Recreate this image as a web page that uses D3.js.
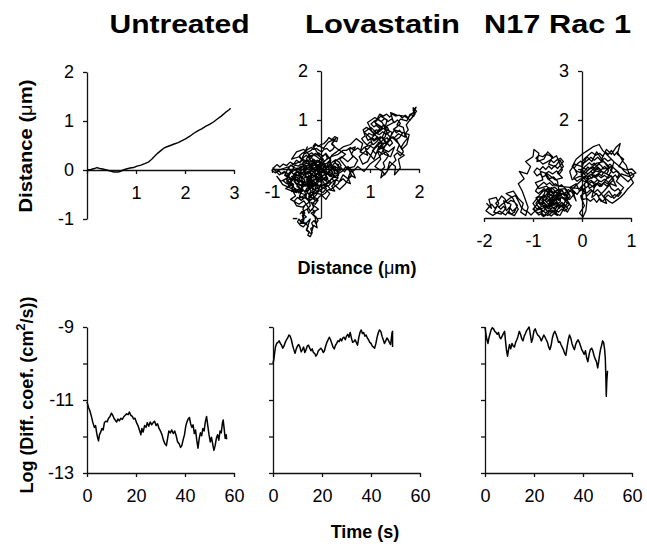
<!DOCTYPE html>
<html lang="en">
<head>
  <meta charset="UTF-8">
  <title>Trajectories and diffusion coefficients</title>
  <script src="https://d3js.org/d3.v7.min.js"></script>
  <style>
    body { margin: 0; background: #fff; }
    .axis path, .axis line { stroke: #111; stroke-width: 1.3px; }
    .axis text { font-family: Arial, "Liberation Sans", sans-serif; font-size: 18px; fill: #000; }
    .title { font-family: Arial, "Liberation Sans", sans-serif; font-weight: bold; font-size: 25px; text-anchor: middle; }
    .label { font-family: Arial, "Liberation Sans", sans-serif; font-weight: bold; font-size: 18px; text-anchor: middle; }
    .trace { fill: none; stroke: #000; stroke-width: 1.3px; stroke-linejoin: round; }
  </style>
</head>
<body>
<div id="chart"></div>
<script>
// panel titles
const titles = ["Untreated", "Lovastatin", "N17 Rac 1"];

// top row: x/y trajectories (µm)
const untreatedPath = [[0,0],[0.08,0.01],[0.15,0.03],[0.2,0.05],[0.26,0.03],[0.32,0.02],[0.4,0.0],[0.48,-0.02],[0.55,-0.04],[0.62,-0.04],[0.68,-0.03],[0.74,0.0],[0.8,0.02],[0.88,0.04],[0.95,0.05],[1.02,0.08],[1.1,0.1],[1.18,0.13],[1.25,0.16],[1.32,0.22],[1.38,0.28],[1.44,0.34],[1.5,0.39],[1.56,0.44],[1.62,0.47],[1.7,0.5],[1.78,0.53],[1.86,0.56],[1.94,0.6],[2.02,0.64],[2.1,0.69],[2.18,0.75],[2.26,0.8],[2.34,0.84],[2.42,0.89],[2.5,0.93],[2.58,0.98],[2.66,1.04],[2.74,1.1],[2.82,1.17],[2.9,1.23],[2.93,1.26]];

const lovastatinWalk1 = [[0,0],[-0.12,0.1],[-0.05,-0.12],[-0.22,-0.02],[-0.18,-0.25],[-0.35,-0.1],[-0.28,0.08],[-0.42,-0.05],[-0.38,-0.28],[-0.55,-0.18],[-0.48,0.02],[-0.62,-0.08],[-0.7,-0.22],[-0.58,-0.32],[-0.72,-0.4],[-0.5,-0.48],[-0.38,-0.4],[-0.45,-0.6],[-0.3,-0.52],[-0.22,-0.35],[-0.1,-0.45],[-0.15,-0.2],[0.02,-0.28],[-0.05,-0.05],[0.12,-0.1],[0.08,0.1],[-0.08,0.18],[-0.2,0.05],[-0.3,0.22],[-0.15,0.3],[-0.02,0.2],[0.1,0.32],[0.2,0.18],[0.15,-0.02],[0.3,0.05],[0.25,-0.18],[0.1,-0.3],[0.2,-0.42],[0.35,-0.3],[0.45,-0.12],[0.55,-0.2],[0.6,-0.05],[0.48,0.08],[0.38,0.2],[0.5,0.3],[0.35,0.4],[0.22,0.5],[0.3,0.62],[0.15,0.55],[0.05,0.42],[-0.1,0.5],[-0.2,0.38],[-0.35,0.3],[-0.28,0.45],[-0.42,0.15],[-0.55,0.1],[-0.65,0.05],[-0.8,0],[-0.92,-0.05],[-0.98,0.02],[-0.85,-0.12],[-0.75,-0.05],[-0.68,-0.18],[-0.82,-0.25],[-0.9,-0.15],[-0.78,-0.32],[-0.6,-0.4],[-0.52,-0.55],[-0.62,-0.62],[-0.45,-0.72],[-0.35,-0.65],[-0.25,-0.8],[-0.4,-0.88],[-0.3,-0.98],[-0.42,-1.05],[-0.32,-1.12],[-0.22,-1.02],[-0.3,-1.25],[-0.2,-1.32],[-0.15,-1.15],[-0.08,-1.2],[-0.12,-0.98],[-0.2,-0.9],[-0.05,-0.82],[-0.18,-0.72],[-0.08,-0.6],[-0.25,-0.58],[-0.15,-0.48],[0,-0.52],[0.1,-0.62],[0.18,-0.5],[0.05,-0.38],[-0.1,-0.3],[-0.25,-0.15],[-0.4,-0.2],[-0.32,-0.35],[-0.5,-0.3],[-0.6,-0.15],[-0.45,-0.12],[-0.3,-0.02],[-0.18,0.1],[-0.32,0.12],[-0.45,0.25],[-0.6,0.2],[-0.5,0.35],[-0.35,0.4],[-0.2,0.25],[-0.1,0.05],[-0.25,-0.08],[-0.12,-0.15],[-0.3,-0.22],[-0.15,-0.35],[-0.02,-0.15],[0.12,-0.22],[0.05,0.02],[0.2,0.08],[0.3,-0.1],[0.4,-0.02],[0.28,0.15],[0.42,0.25],[0.55,0.15],[0.65,0.25],[0.58,0.4],[0.7,0.45],[0.62,0.3],[0.75,0.18],[0.68,0.05],[0.55,0.02],[0.62,-0.12],[0.5,-0.3],[0.38,-0.42],[0.25,-0.3],[0.35,-0.18],[0.18,-0.15],[0.08,-0.05],[-0.05,0.08],[0.05,0.2],[-0.12,0.32],[-0.25,0.18],[-0.38,0.05],[-0.52,-0.02],[-0.4,-0.15],[-0.55,-0.25],[-0.42,-0.42],[-0.28,-0.28],[-0.15,-0.05],[0,0.12],[0.12,0.05],[0.22,0.28],[0.32,0.35],[0.45,0.45]];

const lovastatinWalk2 = [[0.6,0.5],[0.72,0.62],[0.85,0.52],[0.8,0.35],[0.95,0.28],[0.9,0.45],[1.05,0.5],[1.0,0.65],[0.88,0.75],[1.02,0.85],[1.15,0.72],[1.25,0.85],[1.1,0.95],[1.22,1.08],[1.35,1.0],[1.3,0.82],[1.45,0.75],[1.4,0.58],[1.28,0.45],[1.15,0.38],[1.22,0.2],[1.1,0.05],[1.25,-0.05],[1.22,-0.18],[1.35,-0.05],[1.4,0.15],[1.52,0.05],[1.5,-0.12],[1.62,0.02],[1.58,0.2],[1.7,0.28],[1.55,0.38],[1.6,0.5],[1.48,0.62],[1.58,0.72],[1.72,0.65],[1.68,0.85],[1.55,0.9],[1.62,1.02],[1.75,0.98],[1.82,1.12],[1.9,1.08],[1.88,1.25],[1.95,1.18],[1.82,1.0],[1.7,1.08],[1.55,1.1],[1.42,1.15],[1.48,0.95],[1.35,0.88],[1.25,0.65],[1.32,0.52],[1.18,0.55],[1.05,0.35],[0.95,0.15],[0.85,0.1],[0.78,0.25],[0.92,0.38],[1.08,0.2],[1.18,0.45],[1.38,0.35],[1.5,0.45],[1.42,0.25],[1.3,0.3],[1.2,0.6],[1.05,0.75],[0.95,0.95],[1.1,1.05],[1.25,0.95],[1.38,0.68],[1.55,0.58],[1.65,0.4],[1.75,0.5],[1.8,0.7],[1.65,0.75],[1.5,0.8],[1.35,0.55],[1.2,0.25],[1.0,0.1],[0.88,-0.05],[0.75,0.05],[0.65,-0.05]];

const lovastatinWalk3 = [[0.55,0.05],[0.48,-0.06],[0.41,0.03],[0.33,-0.04],[0.36,0.09],[0.27,0.12],[0.21,0.02],[0.14,0.09],[0.18,-0.05],[0.09,-0.12],[0.03,-0.03],[-0.04,-0.1],[0.01,-0.2],[-0.08,-0.24],[-0.13,-0.14],[-0.21,-0.19],[-0.17,-0.3],[-0.26,-0.36],[-0.33,-0.27],[-0.41,-0.33],[-0.36,-0.44],[-0.45,-0.49],[-0.52,-0.4],[-0.6,-0.46],[-0.56,-0.35],[-0.65,-0.3],[-0.6,-0.2],[-0.69,-0.13],[-0.62,-0.05],[-0.54,-0.12],[-0.47,-0.04],[-0.4,-0.11],[-0.34,-0.03],[-0.27,-0.1],[-0.2,-0.03],[-0.24,0.07],[-0.16,0.13],[-0.09,0.05],[-0.02,0.11],[0.06,0.04],[0,-0.06],[-0.07,-0.01],[-0.14,-0.08],[-0.1,-0.17],[-0.19,-0.12],[-0.28,-0.18],[-0.24,-0.27],[-0.31,-0.33],[-0.22,-0.4],[-0.29,-0.47],[-0.2,-0.55],[-0.12,-0.5],[-0.05,-0.42],[-0.1,-0.33],[-0.02,-0.36],[0.07,-0.3],[0.02,-0.21],[0.1,-0.16],[0.16,-0.25],[0.23,-0.2],[0.29,-0.28],[0.22,-0.35],[0.28,-0.45],[0.15,-0.42],[0.08,-0.5],[-0.03,-0.56],[-0.1,-0.65],[-0.17,-0.6],[-0.24,-0.66],[-0.33,-0.58],[-0.4,-0.64],[-0.48,-0.58],[-0.55,-0.66],[-0.5,-0.75],[-0.38,-0.78],[-0.3,-0.72],[-0.22,-0.86],[-0.15,-0.78],[-0.2,-0.68],[-0.12,-0.72],[-0.06,-0.64],[-0.15,-0.56],[-0.22,-0.06],[-0.15,0.01],[-0.23,0.06],[-0.3,-0.01],[-0.37,0.05],[-0.44,-0.02],[-0.38,-0.09],[-0.46,-0.15],[-0.53,-0.08],[-0.58,-0.16],[-0.51,-0.23],[-0.44,-0.28],[-0.49,-0.36],[-0.4,-0.4],[-0.33,-0.46],[-0.28,-0.38],[-0.2,-0.44],[-0.25,-0.52],[-0.16,-0.6],[-0.09,-0.52],[-0.04,-0.44],[0.04,-0.48],[0.11,-0.4],[0.06,-0.33],[0.13,-0.27],[0.07,-0.19],[-0.01,-0.24],[-0.06,-0.16],[-0.13,-0.22],[-0.2,-0.27],[-0.26,-0.21],[-0.33,-0.16],[-0.29,-0.08],[-0.36,-0.02],[-0.3,0.06],[-0.38,0.12],[-0.31,0.18],[-0.22,0.14],[-0.15,0.2],[-0.08,0.14],[-0.01,0.2],[0.07,0.15],[0.13,0.22],[0.1,0.3],[0.02,0.27],[-0.05,0.33],[-0.12,0.27],[-0.19,0.33],[-0.26,0.29],[-0.22,0.2],[-0.29,0.14],[-0.36,0.2],[-0.43,0.13],[-0.5,0.18],[-0.56,0.1],[-0.63,0.14],[-0.7,0.07],[-0.77,0.1],[-0.84,0.04],[-0.9,0.09],[-0.96,0.03],[-1.0,-0.03],[-0.93,-0.08],[-0.86,-0.04],[-0.8,-0.1],[-0.73,-0.06],[-0.66,-0.11],[-0.7,-0.19],[-0.77,-0.24],[-0.7,-0.3],[-0.63,-0.26],[-0.56,-0.31],[-0.6,-0.39],[-0.53,-0.46],[-0.46,-0.41],[-0.4,-0.47],[-0.44,-0.55],[-0.37,-0.6],[-0.3,-0.55],[-0.33,-0.47],[-0.26,-0.42],[-0.18,-0.38],[-0.11,-0.32],[-0.04,-0.35],[0.02,-0.29],[-0.03,-0.21],[0.04,-0.14],[0.11,-0.09],[0.18,-0.13],[0.24,-0.07],[0.2,0.0],[0.27,0.06],[0.34,0.01],[0.41,0.07],[0.37,0.14],[0.3,0.19],[0.23,0.14],[0.17,0.07],[0.1,0.02],[0.03,0.07],[-0.04,0.02],[-0.11,-0.04],[-0.18,0.0],[-0.25,-0.05],[-0.32,-0.1],[-0.39,-0.17],[-0.33,-0.23],[-0.39,-0.3],[-0.32,-0.35],[-0.25,-0.3],[-0.18,-0.24],[-0.12,-0.29],[-0.06,-0.24],[-0.1,-0.12],[-0.03,-0.07],[0.05,-0.04],[0.12,0.0],[0.06,0.09],[-0.02,0.05],[-0.09,0.1],[-0.16,0.06],[-0.24,0.1],[-0.3,0.04],[-0.41,0.06],[-0.47,0.0],[-0.55,0.03],[-0.6,-0.04],[-0.68,0.0],[-0.74,-0.13],[-0.65,-0.18],[-0.57,-0.22],[-0.5,-0.16],[-0.43,-0.22],[-0.36,-0.28],[-0.27,-0.25],[-0.21,-0.32],[-0.14,-0.42],[-0.07,-0.38],[0,-0.43],[0.07,-0.37],[0.16,-0.34],[0.22,-0.27],[0.3,-0.22],[0.38,-0.26],[0.45,-0.2],[0.52,-0.27],[0.6,-0.3],[0.56,-0.2],[0.63,-0.14],[0.7,-0.18],[0.66,-0.08],[0.58,-0.03],[0.5,0.04],[0.44,-0.04],[0.36,-0.09],[0.3,-0.15],[0.22,-0.1],[0.15,-0.05],[0.08,-0.11],[0,-0.15],[-0.07,-0.09],[-0.14,-0.14]];

const lovastatinWalk4 = [[-0.19,-0.09],[-0.23,-0.15],[-0.27,-0.11],[-0.25,-0.04],[-0.31,-0.07],[-0.35,-0.13],[-0.4,-0.08],[-0.45,-0.1],[-0.42,-0.18],[-0.48,-0.22],[-0.45,-0.27],[-0.5,-0.31],[-0.46,-0.36],[-0.41,-0.32],[-0.37,-0.37],[-0.31,-0.31],[-0.27,-0.35],[-0.22,-0.3],[-0.17,-0.33],[-0.13,-0.27],[-0.08,-0.31],[-0.05,-0.26],[-0.09,-0.2],[-0.05,-0.13],[0,-0.1],[0.04,-0.2],[0.09,-0.24],[0.14,-0.19],[0.1,-0.13],[0.15,-0.08],[0.2,-0.14],[0.25,-0.12],[0.22,-0.05],[0.17,0],[0.12,0.05],[0.08,-0.02],[0.03,0.02],[-0.02,-0.02],[-0.06,0.03],[-0.12,-0.02],[-0.17,0.04],[-0.21,0],[-0.26,0.03],[-0.33,0],[-0.35,0.08],[-0.41,0.1],[-0.46,0.06],[-0.52,0.08],[-0.57,0.04],[-0.62,0.08],[-0.66,0.02],[-0.63,-0.03],[-0.58,-0.09],[-0.52,-0.13],[-0.55,-0.2],[-0.6,-0.25],[-0.64,-0.2],[-0.7,-0.25],[-0.66,-0.34],[-0.6,-0.32],[-0.55,-0.38],[-0.51,-0.45],[-0.45,-0.44],[-0.39,-0.5],[-0.34,-0.52],[-0.29,-0.6],[-0.22,-0.62],[-0.27,-0.7],[-0.33,-0.74],[-0.37,-0.82],[-0.33,-0.9],[-0.38,-0.95],[-0.35,-1.03],[-0.4,-1.1],[-0.45,-1.02],[-0.48,-1.08],[-0.42,-1.15],[-0.36,-1.18],[-0.31,-1.12],[-0.26,-1.17],[-0.29,-1.24],[-0.24,-1.28],[-0.27,-1.35],[-0.22,-1.38],[-0.18,-1.3],[-0.21,-1.22],[-0.16,-1.18],[-0.19,-1.1],[-0.14,-1.05],[-0.1,-1.12],[-0.06,-1.05],[-0.1,-0.98],[-0.16,-0.93],[-0.12,-0.87],[-0.18,-0.82],[-0.25,-0.9],[-0.28,-0.82],[-0.22,-0.75],[-0.25,-0.56],[-0.21,-0.48],[-0.14,-0.46],[-0.1,-0.4],[-0.04,-0.38],[0.03,-0.33],[0.09,-0.35],[0.12,-0.3],[0.18,-0.28],[0.2,-0.21],[0.27,-0.16],[0.32,-0.18],[0.36,-0.12],[0.32,-0.04],[0.27,0],[0.24,0.06],[0.2,0.11],[0.15,0.15],[0.1,0.1],[0.04,0.13],[-0.01,0.08],[-0.05,0.15],[-0.11,0.12],[-0.14,0.18],[-0.19,0.14],[-0.24,0.22],[-0.3,0.28],[-0.35,0.24],[-0.4,0.2],[-0.44,0.27],[-0.38,0.32],[-0.32,0.36],[-0.27,0.4],[-0.2,0.44],[-0.15,0.4],[-0.09,0.42],[-0.04,0.38],[0.02,0.35],[0.06,0.4],[0.12,0.42],[0.18,0.36],[0.24,0.4],[0.28,0.46],[0.22,0.52],[0.26,0.58],[0.32,0.56],[0.34,0.63],[0.28,0.66],[0.22,0.6],[0.16,0.64],[0.12,0.58],[0.06,0.52],[0,0.5],[-0.06,0.46],[-0.12,0.52],[-0.16,0.46],[0.05,0.15],[0.2,0.25],[0.35,0.3],[0.45,0.38]];

const lovastatinWalk5 = [[0.52,0.38],[0.6,0.44],[0.68,0.38],[0.75,0.43],[0.82,0.37],[0.88,0.44],[0.95,0.4],[1.01,0.47],[1.08,0.42],[1.14,0.49],[1.2,0.43],[1.27,0.5],[1.22,0.57],[1.15,0.62],[1.08,0.57],[1.02,0.63],[0.96,0.58],[0.92,0.66],[0.98,0.73],[1.05,0.69],[1.12,0.75],[1.19,0.7],[1.26,0.76],[1.33,0.7],[1.4,0.76],[1.36,0.84],[1.29,0.9],[1.22,0.85],[1.15,0.91],[1.08,0.86],[1.02,0.92],[1.09,0.98],[1.16,1.02],[1.23,0.97],[1.3,1.03],[1.37,0.97],[1.44,1.02],[1.5,0.95],[1.56,1.0],[1.62,0.93],[1.55,0.86],[1.48,0.81],[1.54,0.74],[1.6,0.79],[1.66,0.72],[1.6,0.64],[1.53,0.6],[1.47,0.66],[1.41,0.61],[1.46,0.53],[1.4,0.47],[1.34,0.54],[1.28,0.61],[1.21,0.66],[1.14,0.56],[1.07,0.5],[1.0,0.55],[0.94,0.49],[0.88,0.55],[0.83,0.62],[0.9,0.68],[0.86,0.8],[0.93,0.85],[1.0,0.8],[1.06,0.74],[1.13,0.8],[1.2,0.77],[1.27,0.83],[1.34,0.78],[1.31,0.66],[1.25,0.58],[1.18,0.5],[1.12,0.44],[1.05,0.38],[1.12,0.31],[1.18,0.36],[1.25,0.3],[1.32,0.35],[1.38,0.28],[1.33,0.2],[1.27,0.13],[1.3,0.04],[1.24,-0.02],[1.3,-0.12],[1.36,-0.03],[1.41,0.06],[1.47,0.12],[1.53,0.18],[1.49,0.27],[1.56,0.33],[1.62,0.27],[1.68,0.35],[1.64,0.45],[1.7,0.55],[1.76,0.62],[1.72,0.72],[1.78,0.8],[1.74,0.9],[1.8,0.98],[1.86,1.05],[1.92,1.12],[1.88,1.2],[1.94,1.26],[1.9,1.16],[1.84,1.12],[1.78,1.04],[1.72,1.1],[1.66,1.04],[1.6,1.1],[1.52,1.08],[1.46,1.12],[1.4,1.06],[1.34,1.12],[1.27,1.08],[1.2,1.12],[1.16,1.05],[1.1,0.96],[1.14,0.88],[1.2,0.83],[1.16,0.77],[1.1,0.7],[1.04,0.64],[1.09,0.6],[1.15,0.66],[1.2,0.61],[1.25,0.66],[1.3,0.6],[1.35,0.64],[1.38,0.58],[1.34,0.5],[1.28,0.44],[1.22,0.48],[1.17,0.42]];

const n17Walk1 = [[-1.95,0.3],[-1.85,0.2],[-1.9,0.38],[-1.75,0.42],[-1.7,0.3],[-1.8,0.12],[-1.65,0.08],[-1.55,0.2],[-1.6,0.35],[-1.45,0.28],[-1.5,0.1],[-1.38,0.05],[-1.3,0.18],[-1.42,0.42],[-1.55,0.5],[-1.4,0.55],[-1.3,0.4],[-1.2,0.3],[-1.25,0.12],[-1.15,0.05],[-1.1,0.22],[-1.22,0.55],[-1.3,0.7],[-1.18,0.8],[-1.28,0.95],[-1.12,0.9],[-1.05,1.05],[-1.15,1.15],[-1.0,1.25],[-0.98,1.4],[-0.88,1.32],[-0.92,1.15],[-0.78,1.2],[-0.7,1.35],[-0.6,1.25],[-0.68,1.1],[-0.55,1.05],[-0.45,1.18],[-0.38,1.05],[-0.5,0.92],[-0.4,0.82],[-0.55,0.78],[-0.7,0.9],[-0.85,0.95],[-0.8,0.78],[-0.95,0.72],[-0.88,0.6],[-0.72,0.65],[-0.62,0.55],[-0.75,0.45],[-0.9,0.42],[-1.0,0.3],[-0.92,0.18],[-0.8,0.25],[-0.7,0.12],[-0.6,0.22],[-0.68,0.35],[-0.55,0.4],[-0.48,0.28],[-0.58,0.12],[-0.45,0.05],[-0.38,0.18],[-0.3,0.3],[-0.42,0.45],[-0.5,0.58],[-0.35,0.6],[-0.28,0.48],[-0.35,0.35],[-0.22,0.25],[-0.3,0.12],[-0.4,0.25],[-0.55,0.3],[-0.7,0.22],[-0.82,0.35],[-0.75,0.55],[-0.62,0.62],[-0.5,0.5],[-0.6,0.42],[-0.65,0.3],[-0.78,0.15],[-0.9,0.1],[-1.0,0.18],[-0.9,0.3],[-0.8,0.45],[-0.65,0.48],[-0.52,0.38],[-0.4,0.42],[-0.25,0.38],[-0.15,0.5],[-0.25,0.62],[-0.12,0.7],[-0.05,0.55],[0.05,0.6],[-0.02,0.42],[0.05,0.25],[-0.05,0.1],[0.02,0.02],[0.08,0.15],[0.1,0.35],[0.05,0.7],[0.15,0.8],[-0.05,0.85],[-0.2,0.78],[-0.25,0.95],[-0.15,1.1],[0,1.05],[0.1,1.25],[0.2,1.15],[0.3,1.35],[0.4,1.2],[0.5,1.4],[0.6,1.3],[0.7,1.45],[0.78,1.52],[0.72,1.3],[0.85,1.2],[0.75,1.05],[0.9,0.98],[1.02,1.0],[1.1,0.92],[0.95,0.85],[0.8,0.9],[0.7,0.75],[0.85,0.62],[0.75,0.5],[0.65,0.4],[0.55,0.55],[0.45,0.45],[0.5,0.3],[0.38,0.35],[0.3,0.5],[0.2,0.42],[0.25,0.62],[0.35,0.75],[0.2,0.9],[0.3,1.0],[0.45,0.92],[0.55,1.05],[0.45,1.15],[0.3,1.12],[0.15,1.0],[0.05,0.9],[-0.1,0.95],[-0.2,1.05],[-0.12,1.2],[0,1.3],[0.12,1.38],[0.22,1.45],[0.35,1.5],[0.42,1.38],[0.55,1.25],[0.65,1.15],[0.6,0.95],[0.5,0.8],[0.4,0.65],[0.28,0.7],[0.15,0.6],[0.1,0.78],[0.25,0.85],[0.4,0.95],[0.6,0.85],[0.7,0.65],[0.58,0.7],[0.45,0.55],[0.35,0.45],[0.2,0.55],[0.1,0.45],[0,0.62],[-0.1,0.48],[-0.2,0.58],[-0.12,0.35]];

const n17Walk2 = [[-0.2,0.52],[-0.28,0.58],[-0.35,0.5],[-0.42,0.56],[-0.48,0.48],[-0.55,0.53],[-0.6,0.45],[-0.67,0.5],[-0.72,0.42],[-0.79,0.47],[-0.84,0.39],[-0.9,0.33],[-0.84,0.26],[-0.77,0.31],[-0.71,0.25],[-0.65,0.32],[-0.59,0.26],[-0.53,0.33],[-0.47,0.26],[-0.41,0.32],[-0.35,0.25],[-0.29,0.2],[-0.35,0.14],[-0.42,0.18],[-0.48,0.12],[-0.55,0.17],[-0.61,0.11],[-0.68,0.16],[-0.74,0.1],[-0.81,0.16],[-0.87,0.22],[-0.93,0.27],[-0.98,0.2],[-0.94,0.12],[-0.88,0.06],[-0.82,0.1],[-0.76,0.04],[-0.7,0.09],[-0.63,0.04],[-0.57,0.09],[-0.5,0.05],[-0.56,0.2],[-0.63,0.24],[-0.69,0.19],[-0.75,0.24],[-0.82,0.28],[-0.78,0.37],[-0.72,0.33],[-0.66,0.39],[-0.6,0.34],[-0.54,0.41],[-0.48,0.36],[-0.42,0.42],[-0.36,0.38],[-0.31,0.44],[-0.37,0.49],[-0.44,0.51],[-0.51,0.57],[-0.58,0.52],[-0.65,0.58],[-0.71,0.53],[-0.77,0.6],[-0.83,0.55],[-0.89,0.5],[-0.95,0.55],[-0.9,0.63],[-0.84,0.68],[-0.78,0.73],[-0.72,0.68],[-0.66,0.72],[-0.6,0.66],[-0.54,0.7],[-0.48,0.64],[-0.42,0.68],[-0.36,0.62],[-0.3,0.56],[-0.24,0.45],[-0.3,0.36],[-0.25,0.28],[-0.32,0.22],[-0.4,0.28],[-0.46,0.2],[-0.52,0.26],[-0.58,0.19],[-0.64,0.26],[-0.7,0.3],[-0.76,0.36],[-0.7,0.44],[-0.64,0.4],[-0.57,0.47],[-0.5,0.42],[-0.44,0.36],[-0.5,0.75],[-0.58,0.84],[-0.66,0.8],[-0.72,0.88],[-0.8,0.84],[-0.86,0.9],[-0.92,0.86],[-0.98,0.94],[-0.92,1.02],[-0.86,0.98],[-0.8,1.05],[-0.74,0.99],[-0.68,1.06],[-0.62,1.0],[-0.56,1.07],[-0.5,1.01],[-0.44,1.08],[-0.38,1.15],[-0.44,1.22],[-0.52,1.18],[-0.58,1.13],[-0.64,1.19],[-0.72,1.14],[-0.8,1.1],[-0.86,1.16],[-0.94,1.22],[-0.88,1.28],[-0.8,1.25],[-0.74,1.3],[-0.66,1.28],[-0.6,1.22],[-0.52,1.27],[-0.46,1.12],[-0.4,0.98],[-0.46,0.9],[-0.52,0.96],[-0.6,0.9],[-0.68,0.95],[-0.75,0.9],[-0.7,0.8],[-0.62,0.74],[-0.55,0.66]];

const n17Walk3 = [[-0.05,0.6],[0.02,0.68],[0.09,0.62],[0.16,0.69],[0.23,0.63],[0.3,0.7],[0.37,0.64],[0.44,0.71],[0.51,0.65],[0.58,0.72],[0.65,0.78],[0.6,0.86],[0.53,0.81],[0.46,0.87],[0.39,0.82],[0.32,0.88],[0.25,0.83],[0.18,0.89],[0.11,0.84],[0.04,0.9],[-0.03,0.96],[0.04,1.02],[0.11,0.97],[0.18,1.03],[0.25,0.97],[0.32,1.04],[0.39,0.98],[0.46,1.05],[0.53,0.99],[0.6,1.06],[0.67,1.0],[0.74,0.94],[0.8,0.86],[0.87,0.8],[0.94,0.74],[1.0,0.8],[1.06,0.86],[1.0,0.93],[0.93,0.9],[0.86,0.96],[0.8,1.03],[0.73,1.08],[0.66,1.14],[0.6,1.2],[0.53,1.16],[0.46,1.22],[0.39,1.17],[0.32,1.24],[0.25,1.18],[0.18,1.24],[0.11,1.18],[0.04,1.12],[-0.03,1.16],[-0.1,1.1],[-0.16,1.02],[-0.1,0.9],[-0.17,0.82],[-0.1,0.75],[-0.03,0.8],[0.04,0.75],[0.11,0.72],[0.18,0.77],[0.25,0.72],[0.32,0.78],[0.39,0.74],[0.46,0.79],[0.53,0.74],[0.6,0.6],[0.67,0.55],[0.74,0.6],[0.8,0.52],[0.74,0.44],[0.67,0.48],[0.6,0.42],[0.53,0.47],[0.46,0.4],[0.39,0.5],[0.32,0.58],[0.25,0.52],[0.18,0.58],[0.11,0.52],[0.04,0.5],[-0.03,0.45],[0.03,0.38],[0.1,0.4],[0.17,0.34],[0.24,0.4],[0.3,0.32],[0.36,0.4],[0.42,0.34],[0.48,0.4],[0.55,0.34],[0.62,0.3],[0.7,0.36],[0.78,0.42],[0.86,0.5],[0.92,0.58],[0.98,0.64],[1.05,0.72],[0.98,0.84],[0.9,1.08],[0.84,1.15],[0.78,1.25],[0.72,1.35],[0.66,1.28],[0.6,1.38],[0.54,1.3],[0.48,1.34],[0.42,1.26],[0.36,1.32],[0.28,1.28],[0.2,1.34],[0.13,1.28],[0.06,1.22],[0,1.14],[0,0.8],[0.05,0.85],[0.1,0.8],[0.15,0.86],[0.2,0.81],[0.24,0.88],[0.3,0.84],[0.35,0.9],[0.4,0.86],[0.44,0.93],[0.5,0.9],[0.54,0.96],[0.5,1.02],[0.44,1.0],[0.4,1.06],[0.35,1.1],[0.3,1.06],[0.25,1.12],[0.2,1.08],[0.15,1.13],[0.1,1.08],[0.05,1.04],[0,0.98],[0.06,0.94],[0.12,0.9],[0.18,0.95],[0.23,0.91],[0.28,0.96],[0.34,0.94],[0.38,0.99],[0.33,1.02],[0.27,1.0],[0.22,1.04],[0.16,1.0],[0.12,1.04],[0.07,0.98],[0.03,0.92],[-0.02,0.88],[0.03,0.83],[0.08,0.76],[0.14,0.7],[0.2,0.74],[0.26,0.68],[0.33,0.72],[0.4,0.68],[0.46,0.74],[0.52,0.7],[0.57,0.76],[0.62,0.82],[0.68,0.88],[0.72,0.82],[0.76,0.9],[0.7,0.96],[0.64,0.92],[0.58,0.98],[0.62,1.05],[0.57,1.1],[0.52,1.05],[0.47,1.12],[0.42,1.18]];

const n17Walk4 = [[-0.35,0.45],[-0.4,0.5],[-0.45,0.44],[-0.5,0.47],[-0.55,0.4],[-0.6,0.38],[-0.57,0.31],[-0.62,0.27],[-0.67,0.22],[-0.63,0.16],[-0.68,0.11],[-0.73,0.17],[-0.78,0.22],[-0.74,0.28],[-0.79,0.33],[-0.85,0.3],[-0.88,0.37],[-0.83,0.43],[-0.77,0.41],[-0.72,0.48],[-0.68,0.43],[-0.63,0.48],[-0.58,0.43],[-0.53,0.47],[-0.48,0.41],[-0.44,0.34],[-0.49,0.29],[-0.45,0.23],[-0.5,0.17],[-0.55,0.12],[-0.6,0.16],[-0.64,0.09],[-0.7,0.05],[-0.74,0.08],[-0.79,0.03],[-0.84,0.08],[-0.8,0.14],[-0.86,0.18],[-0.9,0.24],[-0.94,0.3],[-0.9,0.36],[-0.94,0.41],[-0.88,0.45],[-0.84,0.5],[-0.79,0.55],[-0.73,0.58],[-0.68,0.62],[-0.62,0.59],[-0.57,0.63],[-0.52,0.6],[-0.47,0.55],[-0.41,0.58],[-0.38,0.52],[-0.33,0.48],[-0.28,0.42],[-0.32,0.36],[-0.37,0.3],[-0.33,0.24],[-0.38,0.2],[-0.43,0.25],[-0.48,0.22],[-0.52,0.3],[-0.57,0.26],[-0.61,0.32],[-0.66,0.36],[-0.71,0.4],[-0.75,0.35],[-0.8,0.39],[-0.75,0.45],[-0.7,0.51],[-0.65,0.55],[-0.6,0.5],[-0.55,0.55],[-0.5,0.52],[-0.45,0.48],[-0.6,0.3],[-0.8,0.2],[-0.95,0.15],[-1.04,0.06],[-1.1,0.12],[-1.18,0.16],[-1.24,0.22],[-1.3,0.35],[-1.36,0.46],[-1.48,0.4],[-1.56,0.33],[-1.63,0.28],[-1.7,0.22],[-1.76,0.3],[-1.7,0.36],[-1.64,0.45],[-1.58,0.4],[-1.52,0.3],[-1.45,0.36],[-1.38,0.33],[-1.32,0.26],[-1.38,0.12],[-1.44,0.08],[-1.5,0.14],[-1.56,0.06],[-1.62,0.1],[-1.68,0.14],[-1.75,0.1],[-1.82,0.05],[-1.9,0.1],[-1.96,0.15],[-1.9,0.22],[-1.84,0.28],[-1.78,0.2],[-1.72,0.25],[-1.66,0.18],[-1.6,0.24],[-1.54,0.15],[-1.48,0.22],[-1.42,0.14],[-1.35,0.2]];

// bottom row: log diffusion coefficient vs time (s)
const untreatedLogD = [[0,-11.05],[0.6,-11.2],[1.2,-11.3],[1.8,-11.45],[2.4,-11.62],[3.0,-11.75],[3.5,-11.7],[4.0,-11.92],[4.4,-12.05],[4.7,-12.12],[5.1,-11.95],[5.6,-11.88],[6.1,-11.78],[6.6,-11.82],[7.1,-11.62],[7.6,-11.58],[8.2,-11.6],[8.8,-11.5],[9.4,-11.45],[10.0,-11.36],[10.5,-11.42],[11.0,-11.5],[11.6,-11.56],[12.1,-11.6],[12.6,-11.52],[13.2,-11.57],[13.8,-11.5],[14.4,-11.53],[15.0,-11.46],[15.6,-11.42],[16.2,-11.38],[16.8,-11.4],[17.3,-11.33],[17.9,-11.42],[18.5,-11.45],[19.0,-11.52],[19.6,-11.5],[20.2,-11.62],[20.8,-11.7],[21.4,-11.82],[22.0,-11.95],[22.4,-11.78],[22.9,-11.88],[23.5,-11.7],[24.1,-11.75],[24.6,-11.62],[25.2,-11.72],[25.8,-11.6],[26.4,-11.68],[27.0,-11.62],[27.6,-11.58],[28.2,-11.7],[28.8,-11.65],[29.4,-11.78],[30.0,-11.85],[30.6,-11.95],[31.2,-12.1],[31.8,-12.2],[32.4,-12.25],[32.9,-12.05],[33.4,-11.85],[34.0,-11.9],[34.6,-11.82],[35.2,-11.92],[35.8,-11.85],[36.4,-11.98],[37.0,-12.15],[37.6,-12.2],[38.2,-12.3],[38.7,-12.25],[39.2,-12.1],[39.8,-11.95],[40.3,-11.72],[40.8,-11.6],[41.3,-11.52],[41.8,-11.48],[42.3,-11.65],[42.8,-11.75],[43.3,-11.68],[43.8,-11.92],[44.3,-11.82],[44.8,-12.1],[45.3,-12.32],[45.8,-12.05],[46.3,-11.9],[46.8,-11.98],[47.3,-11.78],[47.8,-11.85],[48.3,-11.6],[48.8,-11.45],[49.3,-11.7],[49.8,-11.95],[50.3,-12.15],[50.8,-12.02],[51.3,-12.2],[51.8,-12.38],[52.3,-12.25],[52.8,-12.05],[53.3,-11.95],[53.8,-12.1],[54.3,-11.85],[54.8,-11.9],[55.3,-11.62],[55.6,-11.55],[56.0,-11.8],[56.4,-12.05],[56.8,-11.95],[57.0,-12.08]];

const lovastatinLogD = [[0,-10.0],[0.3,-9.9],[0.6,-9.75],[1.0,-9.55],[1.5,-9.45],[2.0,-9.42],[2.5,-9.38],[3.0,-9.45],[3.5,-9.5],[4.0,-9.58],[4.5,-9.52],[5.0,-9.42],[5.5,-9.35],[6.0,-9.3],[6.5,-9.22],[7.0,-9.25],[7.5,-9.35],[8.0,-9.5],[8.5,-9.62],[9.0,-9.72],[9.5,-9.6],[10.0,-9.52],[10.5,-9.48],[11.0,-9.55],[11.5,-9.68],[12.0,-9.62],[12.5,-9.55],[13.0,-9.7],[13.5,-9.62],[14.0,-9.52],[14.5,-9.5],[15.0,-9.58],[15.5,-9.65],[16.0,-9.6],[16.5,-9.7],[17.0,-9.72],[17.5,-9.8],[18.0,-9.75],[18.5,-9.65],[19.0,-9.62],[19.5,-9.58],[20.0,-9.62],[20.5,-9.7],[21.0,-9.65],[21.5,-9.52],[22.0,-9.42],[22.5,-9.35],[23.0,-9.28],[23.5,-9.35],[24.0,-9.45],[24.5,-9.55],[25.0,-9.6],[25.5,-9.5],[26.0,-9.45],[26.5,-9.38],[27.0,-9.4],[27.5,-9.32],[28.0,-9.38],[28.5,-9.3],[29.0,-9.28],[29.5,-9.35],[30.0,-9.25],[30.5,-9.2],[31.0,-9.28],[31.5,-9.15],[32.0,-9.3],[32.5,-9.42],[33.0,-9.4],[33.5,-9.35],[34.0,-9.42],[34.5,-9.5],[35.0,-9.3],[35.5,-9.15],[36.0,-9.08],[36.5,-9.18],[37.0,-9.15],[37.5,-9.25],[38.0,-9.22],[38.5,-9.3],[39.0,-9.35],[39.5,-9.42],[40.0,-9.45],[40.5,-9.52],[41.0,-9.55],[41.5,-9.58],[42.0,-9.45],[42.5,-9.28],[43.0,-9.15],[43.5,-9.08],[44.0,-9.12],[44.5,-9.25],[45.0,-9.35],[45.5,-9.45],[46.0,-9.38],[46.5,-9.3],[47.0,-9.35],[47.5,-9.42],[48.0,-9.48],[48.3,-9.32],[48.6,-9.15],[48.8,-9.12],[48.8,-9.55]];

const n17LogD = [[0,-9.0],[0.4,-9.2],[0.8,-9.35],[1.2,-9.45],[1.6,-9.3],[2.0,-9.2],[2.5,-9.08],[3.0,-9.02],[3.5,-9.05],[4.0,-9.12],[4.5,-9.15],[5.0,-9.2],[5.5,-9.15],[6.0,-9.28],[6.5,-9.32],[7.0,-9.25],[7.5,-9.18],[8.0,-9.12],[8.4,-9.4],[8.8,-9.65],[9.2,-9.8],[9.6,-9.62],[10.0,-9.48],[10.5,-9.6],[11.0,-9.45],[11.5,-9.52],[12.0,-9.55],[12.5,-9.42],[13.0,-9.35],[13.5,-9.25],[14.0,-9.12],[14.5,-9.2],[15.0,-9.32],[15.5,-9.38],[16.0,-9.25],[16.5,-9.18],[17.0,-9.1],[17.5,-9.05],[18.0,-9.0],[18.5,-9.2],[19.0,-9.42],[19.5,-9.3],[20.0,-9.1],[20.5,-9.05],[21.0,-9.15],[21.5,-9.22],[22.0,-9.25],[22.5,-9.3],[23.0,-9.38],[23.5,-9.3],[24.0,-9.22],[24.5,-9.28],[25.0,-9.35],[25.5,-9.42],[26.0,-9.55],[26.5,-9.62],[27.0,-9.5],[27.5,-9.3],[28.0,-9.18],[28.5,-9.12],[29.0,-9.2],[29.5,-9.3],[30.0,-9.42],[30.5,-9.4],[31.0,-9.48],[31.5,-9.55],[32.0,-9.62],[32.5,-9.72],[33.0,-9.78],[33.5,-9.55],[34.0,-9.35],[34.5,-9.22],[35.0,-9.3],[35.5,-9.45],[36.0,-9.55],[36.5,-9.62],[37.0,-9.48],[37.5,-9.4],[38.0,-9.35],[38.5,-9.42],[39.0,-9.52],[39.5,-9.62],[40.0,-9.68],[40.5,-9.75],[41.0,-9.65],[41.5,-9.85],[42.0,-9.95],[42.5,-9.75],[43.0,-9.62],[43.5,-9.58],[44.0,-9.65],[44.5,-9.78],[45.0,-9.88],[45.5,-9.95],[46.0,-10.12],[46.4,-9.95],[46.8,-9.75],[47.2,-9.6],[47.6,-9.5],[48.0,-9.38],[48.4,-9.42],[48.8,-9.6],[49.1,-9.85],[49.3,-10.3],[49.5,-10.9],[49.7,-10.5],[50.0,-10.2]];

// axis ticks and which of them carry a label
const topXTicks = [[0,1,2,3],[-1,0,1,2],[-2,-1,0,1]];
const topXLabels = [[1,2,3],[-1,1,2],[-2,-1,0,1]];
const topYTicks = [[-1,0,1,2],[-1,0,1,2],[0,1,2,3]];
const topYLabels = [[-1,0,1,2],[-1,1,2],[2,3]];
const timeTicks = [0,20,40,60];
const logTicks = [-13,-12,-11,-10,-9];
const logLabels = [-13,-11,-9];

const W = 647, H = 548;
const svg = d3.select("#chart").append("svg")
  .attr("width", W).attr("height", H);

// pixel frames of the six panels
const topFrames = [
  { x: [87, 234], y: [219, 72] },
  { x: [272, 419], y: [218, 71] },
  { x: [484, 631], y: [218, 71] }
];
const botFrames = [
  { x: [87, 234], y: [473, 327] },
  { x: [273, 420], y: [473, 327] },
  { x: [485, 632], y: [473, 327] }
];
const topDomX = [[0, 3], [-1, 2], [-2, 1]];
const topDomY = [[-1, 2], [-1, 2], [0, 3]];
const paths = [
  untreatedPath,
  lovastatinWalk1.concat(lovastatinWalk2, lovastatinWalk3, lovastatinWalk4, lovastatinWalk5),
  n17Walk1.concat(n17Walk2, n17Walk3, n17Walk4)
];
const series = [untreatedLogD, lovastatinLogD, n17LogD];

function fmt(labels) {
  return d => labels.includes(d) ? String(d) : "";
}

topFrames.forEach((f, i) => {
  const x = d3.scaleLinear().domain(topDomX[i]).range(f.x);
  const y = d3.scaleLinear().domain(topDomY[i]).range(f.y);
  const g = svg.append("g");

  g.append("g").attr("class", "axis")
    .attr("transform", `translate(0,${y(Math.max(0, topDomY[i][0]))})`)
    .call(d3.axisBottom(x).tickValues(topXTicks[i]).tickFormat(fmt(topXLabels[i]))
      .tickSizeInner(4).tickSizeOuter(0).tickPadding(12));

  g.append("g").attr("class", "axis")
    .attr("transform", `translate(${x(Math.max(0, topDomX[i][0]))},0)`)
    .call(d3.axisLeft(y).tickValues(topYTicks[i]).tickFormat(fmt(topYLabels[i]))
      .tickSizeInner(4).tickSizeOuter(0).tickPadding(9));

  g.append("path").attr("class", "trace")
    .style("stroke-width", i === 0 ? "1.4px" : null)
    .datum(paths[i])
    .attr("d", d3.line().x(d => x(d[0])).y(d => y(d[1])));

  svg.append("text").attr("class", "title")
    .attr("x", (f.x[0] + f.x[1]) / 2 + [19, 37, 0][i]).attr("y", 33)
    .attr("textLength", [140, 155, 147][i]).attr("lengthAdjust", "spacingAndGlyphs")
    .text(titles[i]);
});

botFrames.forEach((f, i) => {
  const x = d3.scaleLinear().domain([0, 60]).range(f.x);
  const y = d3.scaleLinear().domain([-13, -9]).range(f.y);
  const g = svg.append("g");

  g.append("g").attr("class", "axis")
    .attr("transform", `translate(0,${f.y[0]})`)
    .call(d3.axisBottom(x).tickValues(timeTicks)
      .tickSizeInner(4).tickSizeOuter(0).tickPadding(12));

  g.append("g").attr("class", "axis")
    .attr("transform", `translate(${f.x[0]},0)`)
    .call(d3.axisLeft(y).tickValues(logTicks).tickFormat(fmt(i === 0 ? logLabels : []))
      .tickSizeInner(4).tickSizeOuter(0).tickPadding(9));

  g.append("path").attr("class", "trace")
    .style("stroke-width", "1.5px")
    .datum(series[i])
    .attr("d", d3.line().x(d => x(d[0])).y(d => y(d[1])));
});

// axis titles
const distY = svg.append("text").attr("class", "label")
  .attr("transform", "translate(32,146) rotate(-90)")
  .attr("textLength", 133).attr("lengthAdjust", "spacingAndGlyphs");
distY.append("tspan").text("Distance (");
distY.append("tspan").style("font-weight", "normal").text("μ");
distY.append("tspan").text("m)");

const distX = svg.append("text").attr("class", "label")
  .attr("x", 357).attr("y", 274)
  .attr("textLength", 119).attr("lengthAdjust", "spacingAndGlyphs");
distX.append("tspan").text("Distance (");
distX.append("tspan").style("font-weight", "normal").text("μ");
distX.append("tspan").text("m)");

const logY = svg.append("text").attr("class", "label")
  .attr("transform", "translate(33,395) rotate(-90)");
logY.append("tspan").text("Log (Diff. coef. (cm");
logY.append("tspan").attr("dy", -8).style("font-size", "13px").text("2");
logY.append("tspan").attr("dy", 8).text("/s))");

svg.append("text").attr("class", "label")
  .attr("x", 365).attr("y", 538)
  .text("Time (s)");
</script>
</body>
</html>
